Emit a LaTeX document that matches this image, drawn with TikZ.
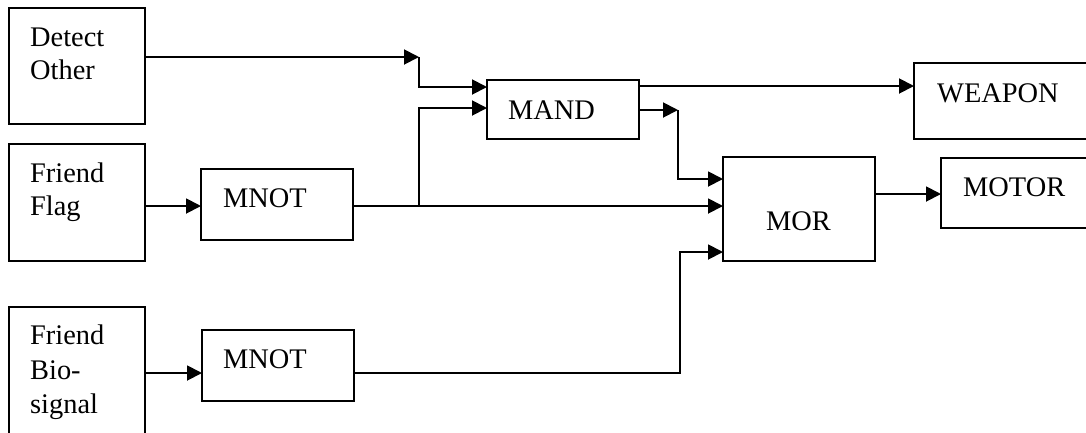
\documentclass[tikz,border=0pt]{standalone}
\usepackage{fontspec}
\setmainfont{Liberation Serif}
\usetikzlibrary{arrows.meta}
\tikzset{
  box/.style={draw, line width=1.5bp, rectangle, inner sep=0pt, outer sep=0pt, anchor=north west},
  lbl/.style={anchor=base west, inner sep=0pt, font=\fontsize{28.5}{34}\selectfont},
  wire/.style={line width=1.9bp},
  arr/.style={wire, -{Triangle[length=15bp,width=15bp]}}
}
\begin{document}
\begin{tikzpicture}[x=1bp,y=-1bp]
\clip (0,0) rectangle (1086,432);
\fill[white] (0,0) rectangle (1086,432);
% boxes
\node[box, minimum width=136bp, minimum height=116bp] (det) at (9,8) {};
\node[box, minimum width=136bp, minimum height=117bp] (ff) at (9,144) {};
\node[box, minimum width=136bp, minimum height=140bp] (fb) at (9,307) {};
\node[box, minimum width=152bp, minimum height=71bp] (mnot1) at (201,169) {};
\node[box, minimum width=152bp, minimum height=71bp] (mnot2) at (202,330) {};
\node[box, minimum width=152bp, minimum height=59bp] (mand) at (487,80) {};
\node[box, minimum width=152bp, minimum height=104bp] (mor) at (723,157) {};
\node[box, minimum width=190bp, minimum height=76bp] (weapon) at (914,63) {};
\node[box, minimum width=170bp, minimum height=70bp] (motor) at (941,158) {};
% labels
\node[lbl] (tdet1) at (30,46) {Detect};
\node[lbl] (tdet2) at (30,79) {Other};
\node[lbl] (tff1) at (30,182) {Friend};
\node[lbl] (tff2) at (30,215) {Flag};
\node[lbl] (tfb1) at (30,344) {Friend};
\node[lbl] (tfb2) at (30,379) {Bio-};
\node[lbl] (tfb3) at (30,413) {signal};
\node[lbl] (tm1) at (223,207) {MNOT};
\node[lbl] (tm2) at (223,368) {MNOT};
\node[lbl] (tmand) at (508,119) {MAND};
\node[lbl] (tmor) at (766,230) {MOR};
\node[lbl] (tweap) at (937,102) {WEAPON};
\node[lbl] (tmotor) at (963,196) {MOTOR};
% junction coordinates
\coordinate (j1) at (419,57);
\coordinate (j1b) at (419,87);
\coordinate (j2) at (419,206);
\coordinate (j2b) at (419,108);
\coordinate (yFF) at (0,206);
\coordinate (yW) at (0,86);
\coordinate (j3) at (678,110);
\coordinate (j3b) at (678,179);
\coordinate (yFB) at (0,373);
\coordinate (j4) at (680,373);
\coordinate (j4b) at (680,252);
\coordinate (yM) at (0,194);
% connectors
\draw[arr] (det.east |- j1) -- (j1);
\draw[arr] (j1) -- (j1b) -- (mand.west |- j1b);
\draw[arr] (ff.east |- yFF) -- (mnot1.west |- yFF);
\draw[arr] (mnot1.east |- yFF) -- (mor.west |- yFF);
\draw[arr] (j2) -- (j2b) -- (mand.west |- j2b);
\draw[arr] (mand.east |- yW) -- (weapon.west |- yW);
\draw[arr] (mand.east |- j3) -- (j3);
\draw[arr] (j3) -- (j3b) -- (mor.west |- j3b);
\draw[arr] (fb.east |- yFB) -- (mnot2.west |- yFB);
\draw[arr] (mnot2.east |- yFB) -- (j4) -- (j4b) -- (mor.west |- j4b);
\draw[arr] (mor.east |- yM) -- (motor.west |- yM);
\end{tikzpicture}
\end{document}
